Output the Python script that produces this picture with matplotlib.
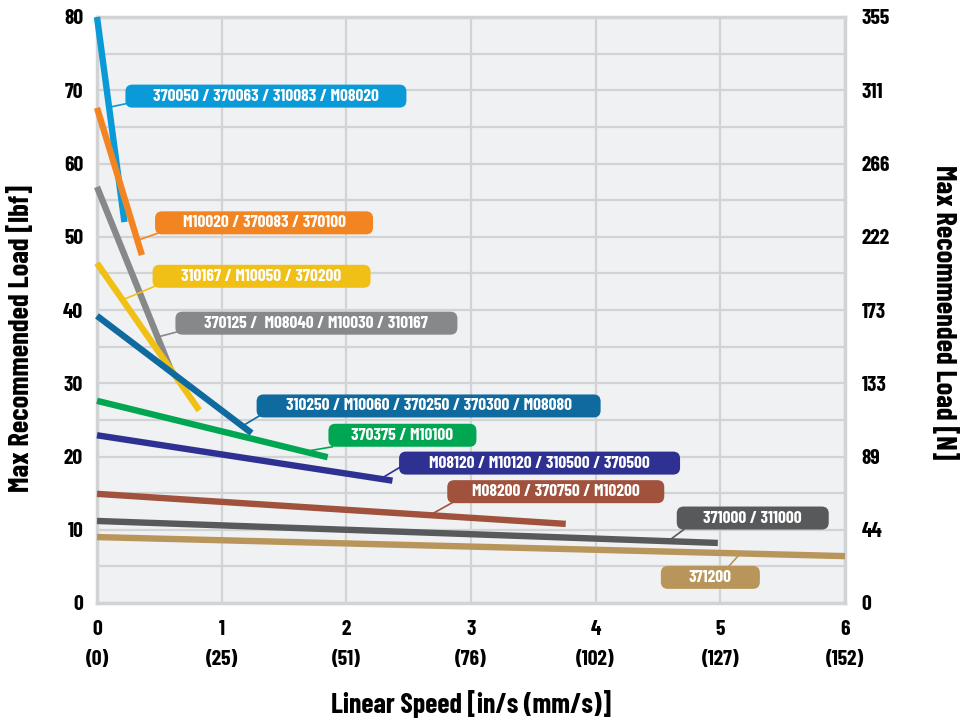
import matplotlib
matplotlib.use("Agg")
import matplotlib.pyplot as plt
from matplotlib.patches import FancyBboxPatch
from matplotlib.transforms import IdentityTransform

plt.rcParams['font.family'] = ['Barlow Condensed', 'DejaVu Sans']
plt.rcParams['font.stretch'] = 'condensed'
plt.rcParams['font.weight'] = 'bold'
plt.rcParams['axes.labelweight'] = 'bold'

# series: straight lines from (0, y_start) to (x_end, y_end)
labels = ['370050 / 370063 / 310083 / M08020',
          'M10020 / 370083 / 370100',
          '370125 /  M08040 / M10030 / 310167',
          '310167 / M10050 / 370200',
          '310250 / M10060 / 370250 / 370300 / M08080',
          '370375 / M10100',
          'M08120 / M10120 / 310500 / 370500',
          'M08200 / 370750 / M10200',
          '371000 / 311000',
          '371200']
y_start = [80.0, 67.6, 56.8, 46.4, 39.2, 27.6, 22.9, 14.9, 11.2, 9.0]
x_end = [0.22, 0.36, 0.60, 0.82, 1.24, 1.85, 2.37, 3.76, 4.98, 6.0]
y_end = [52.0, 47.5, 31.5, 26.3, 23.2, 19.9, 16.7, 10.8, 8.2, 6.4]
colors = ['#0a9ad8', '#f28522', '#87888a', '#f0c016', '#0f6aa0',
          '#00a651', '#2e3192', '#a0523d', '#58595b', '#b8955a']

x_ticks = [0, 1, 2, 3, 4, 5, 6]
x_mm = [0, 25, 51, 76, 102, 127, 152]
y_ticks = [0, 10, 20, 30, 40, 50, 60, 70, 80]
y_newton = [0, 44, 89, 133, 173, 222, 266, 311, 355]

# label layout: box centre (data), box width (px), leader point fraction along line, leader anchor on box
lab_pos = [(1.355, 69.2), (1.34, 51.9), (1.76, 38.2), (1.32, 44.6), (2.66, 26.9),
           (2.45, 22.9), (3.55, 19.1), (3.68, 15.2), (5.26, 11.6), (4.92, 3.5)]
lab_w = [281, 218, 282, 218, 344, 148, 281, 217, 152, 99]
lead_t = [0.44, 0.9, 0.81, 0.25, 0.94, 0.9, 0.96, 0.71, 0.92, 0.86]
lead_anchor = [(0.0, 0.2), (0.01, 0.1), (0.0, 0.15), (0.0, 0.1), (0.0, 0.1),
               (0.0, 0.0), (0.0, 0.4), (0.01, 0.05), (0.02, 0.0), (0.65, 1.0)]

fig = plt.figure(figsize=(9.6, 7.2), dpi=100)
ax = fig.add_axes([97 / 960, 1 - 603 / 720, 748 / 960, 586 / 720])
ax.set_facecolor('#f0f1f3')
ax.set_xlim(0, 6)
ax.set_ylim(0, 80)
ax.set_yticks([v + 5 for v in y_ticks[:-1]], minor=True)
ax.grid(True, which='both', color='#d2d3d5', lw=1.6)
ax.tick_params(which='both', length=0)
ax.set_xticks(x_ticks)
ax.set_xticklabels(['%d\n(%d)' % (a, b) for a, b in zip(x_ticks, x_mm)],
                   fontsize=15.5, linespacing=1.75)
ax.tick_params(axis='x', pad=12)
ax.set_yticks(y_ticks)
ax.set_yticklabels([str(v) for v in y_ticks], fontsize=15.5)
ax.tick_params(axis='y', pad=10)
for s in ax.spines.values():
    s.set_color('#d2d3d5')
    s.set_linewidth(2.5)
ax.set_axisbelow(True)

ax2 = ax.twinx()
ax2.set_ylim(0, 80)
ax2.set_yticks(y_ticks)
ax2.set_yticklabels([str(v) for v in y_newton], fontsize=15.5)
ax2.tick_params(length=0, pad=12)
for s in ax2.spines.values():
    s.set_visible(False)

for i in range(len(labels)):
    ax.plot([0, x_end[i]], [y_start[i], y_end[i]], color=colors[i], lw=4.6,
            solid_capstyle='butt', zorder=3, clip_on=False)

ax.set_xlabel('Linear Speed [in/s (mm/s)]', fontsize=20, labelpad=15)
fig.text(21 / 960, 1 - 338 / 720, 'Max Recommended Load [lbf]', rotation=90,
         fontsize=20.5, ha='center', va='center')
fig.text(945 / 960, 1 - 312 / 720, 'Max Recommended Load [N]', rotation=-90,
         fontsize=20.5, ha='center', va='center')

h = 23
for i in range(len(labels)):
    cx, cy = ax.transData.transform(lab_pos[i])
    w = lab_w[i]
    x0, y0 = cx - w / 2, cy - h / 2
    tx = lead_t[i] * x_end[i]
    ty = y_start[i] + lead_t[i] * (y_end[i] - y_start[i])
    px, py = ax.transData.transform((tx, ty))
    ax_, ay_ = x0 + lead_anchor[i][0] * w + 4, y0 + lead_anchor[i][1] * h
    fig.add_artist(plt.Line2D([ax_, px], [ay_, py], color=colors[i], lw=1.2,
                              transform=IdentityTransform(), zorder=4))
    box = FancyBboxPatch((x0, y0), w, h, boxstyle='round,pad=0,rounding_size=7',
                         fc=colors[i], ec='none', transform=IdentityTransform(),
                         zorder=5)
    fig.add_artist(box)
    fig.text(cx, cy, labels[i], color='white', fontsize=12.5, ha='center',
             va='center', transform=IdentityTransform(), zorder=6)

fig.savefig('out.png', dpi=100)
